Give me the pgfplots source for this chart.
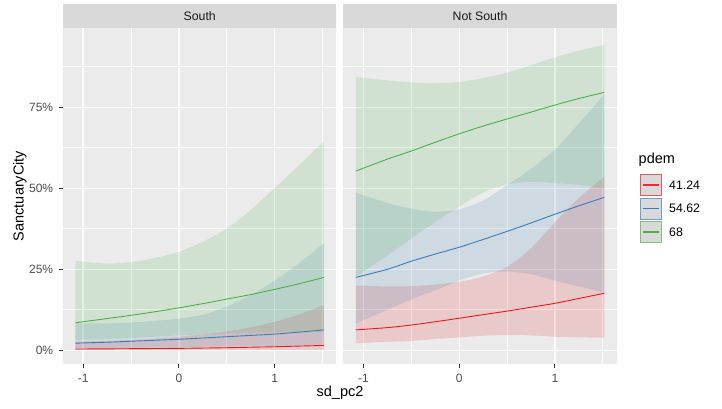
\documentclass[border=0pt]{standalone}
\usepackage{fontspec}
\setmainfont{Liberation Sans}
\usepackage{pgfplots}
\pgfplotsset{compat=1.18}
\usepackage{pgfplotstable}
\usepgfplotslibrary{fillbetween}

\definecolor{cred}{HTML}{E41A1C}
\definecolor{cblue}{HTML}{377EB8}
\definecolor{cgreen}{HTML}{4DAF4A}
\definecolor{panelbg}{HTML}{EBEBEB}
\definecolor{stripbg}{HTML}{D9D9D9}
\definecolor{tickgrey}{HTML}{333333}
\definecolor{labgrey}{HTML}{4D4D4D}
\definecolor{stripfg}{HTML}{1A1A1A}
\definecolor{kred}{HTML}{E8585A}
\definecolor{kblue}{HTML}{6E9FCB}
\definecolor{kgreen}{HTML}{7DC47B}
\definecolor{lred}{HTML}{EE2A2C}

\pgfplotstableread{
x      gl     gm     gu     bl     bm     bu     rl      rm      ru
-1.08  0.032  0.085  0.276  0.006  0.022  0.083  0.0005  0.0040  0.027
-0.75  0.035  0.098  0.268  0.007  0.025  0.083  0.0006  0.0045  0.029
-0.50  0.038  0.108  0.272  0.008  0.028  0.086  0.0007  0.0050  0.032
-0.25  0.042  0.119  0.285  0.009  0.031  0.091  0.0008  0.0055  0.036
 0.00  0.046  0.131  0.304  0.010  0.034  0.098  0.0009  0.0060  0.042
 0.25  0.049  0.144  0.335  0.011  0.038  0.110  0.0010  0.0070  0.049
 0.50  0.052  0.158  0.375  0.012  0.042  0.135  0.0010  0.0080  0.058
 0.75  0.054  0.172  0.433  0.013  0.046  0.170  0.0012  0.0095  0.071
 1.00  0.055  0.188  0.500  0.014  0.050  0.215  0.0013  0.0110  0.088
 1.25  0.055  0.205  0.570  0.015  0.056  0.268  0.0014  0.0130  0.110
 1.515 0.055  0.225  0.645  0.016  0.063  0.330  0.0015  0.0150  0.140
}\south

\pgfplotstableread{
x      gl     gm     gu     bl     bm     bu     rl     rm     ru
-1.08  0.227  0.553  0.843  0.083  0.225  0.486  0.022  0.063  0.200
-0.75  0.292  0.590  0.833  0.125  0.250  0.455  0.026  0.070  0.197
-0.50  0.345  0.615  0.827  0.157  0.275  0.437  0.029  0.078  0.198
-0.25  0.396  0.642  0.824  0.185  0.297  0.428  0.035  0.088  0.203
 0.00  0.443  0.668  0.828  0.215  0.318  0.435  0.040  0.099  0.212
 0.25  0.487  0.692  0.840  0.237  0.342  0.462  0.045  0.110  0.228
 0.50  0.512  0.714  0.857  0.243  0.367  0.510  0.047  0.121  0.258
 0.75  0.520  0.735  0.880  0.235  0.393  0.560  0.046  0.133  0.315
 1.00  0.516  0.757  0.904  0.215  0.420  0.620  0.042  0.145  0.395
 1.25  0.510  0.777  0.925  0.197  0.446  0.700  0.040  0.160  0.470
 1.515 0.500  0.796  0.942  0.178  0.472  0.790  0.039  0.176  0.536
}\nsouth

\pgfplotsset{
  panel/.style={
    scale only axis, anchor=south west,
    width=273.4pt, height=336.3pt,
    xmin=-1.21, xmax=1.645, ymin=-0.0432, ymax=0.9947,
    axis background/.style={fill=panelbg},
    axis line style={draw=none},
    grid=both,
    major grid style={line width=1.3pt, white},
    minor grid style={line width=0.65pt, white},
    xtick={-1,0,1}, minor xtick={-0.5,0.5,1.5},
    xticklabels={-1,0,1},
    ytick={0,0.25,0.5,0.75}, minor ytick={0.125,0.375,0.625,0.875},
    tick align=outside, major tick length=3.7pt, minor tick length=0pt,
    tick style={draw=tickgrey, line width=1pt},
    tick pos=left,
    ticklabel style={font=\fontsize{12pt}{13pt}\selectfont, text=labgrey},
    xticklabel style={inner sep=1pt, yshift=-5pt},
    yticklabel style={inner sep=1pt, xshift=-5pt},
  },
  rib/.style={draw=none, fill opacity=0.16, fill=#1},
  ln/.style={#1, line width=0.9pt, smooth},
}

\begin{document}
\begin{tikzpicture}
\path (0,0) rectangle (722pt,408pt);

% strips
\fill[stripbg] (63pt,380pt) rectangle (336.4pt,404pt);
\node[text=stripfg, font=\fontsize{12.3pt}{13pt}\selectfont] at (199.7pt,392pt) {South};
\fill[stripbg] (343.3pt,380pt) rectangle (616.7pt,404pt);
\node[text=stripfg, font=\fontsize{12.3pt}{13pt}\selectfont] at (480pt,392pt) {Not South};

\begin{axis}[panel, at={(63pt,43.7pt)},
  yticklabels={0\%,25\%,50\%,75\%}]
  \addplot[draw=none, smooth, name path=sru] table[x=x,y=ru]{\south};
  \addplot[draw=none, smooth, name path=srl] table[x=x,y=rl]{\south};
  \addplot[rib=cred] fill between[of=sru and srl];
  \addplot[draw=none, smooth, name path=sbu] table[x=x,y=bu]{\south};
  \addplot[draw=none, smooth, name path=sbl] table[x=x,y=bl]{\south};
  \addplot[rib=cblue] fill between[of=sbu and sbl];
  \addplot[draw=none, smooth, name path=sgu] table[x=x,y=gu]{\south};
  \addplot[draw=none, smooth, name path=sgl] table[x=x,y=gl]{\south};
  \addplot[rib=cgreen] fill between[of=sgu and sgl];
  \addplot[ln=cred] table[x=x,y=rm]{\south};
  \addplot[ln=cblue] table[x=x,y=bm]{\south};
  \addplot[ln=cgreen] table[x=x,y=gm]{\south};
\end{axis}

\begin{axis}[panel, at={(343.3pt,43.7pt)},
  yticklabels={}, ytick style={draw=none}]
  \addplot[draw=none, smooth, name path=nru] table[x=x,y=ru]{\nsouth};
  \addplot[draw=none, smooth, name path=nrl] table[x=x,y=rl]{\nsouth};
  \addplot[rib=cred] fill between[of=nru and nrl];
  \addplot[draw=none, smooth, name path=nbu] table[x=x,y=bu]{\nsouth};
  \addplot[draw=none, smooth, name path=nbl] table[x=x,y=bl]{\nsouth};
  \addplot[rib=cblue] fill between[of=nbu and nbl];
  \addplot[draw=none, smooth, name path=ngu] table[x=x,y=gu]{\nsouth};
  \addplot[draw=none, smooth, name path=ngl] table[x=x,y=gl]{\nsouth};
  \addplot[rib=cgreen] fill between[of=ngu and ngl];
  \addplot[ln=cred] table[x=x,y=rm]{\nsouth};
  \addplot[ln=cblue] table[x=x,y=bm]{\nsouth};
  \addplot[ln=cgreen] table[x=x,y=gm]{\nsouth};
\end{axis}

% axis titles
\node[font=\fontsize{14.5pt}{16pt}\selectfont] at (340pt,15pt) {sd\_pc2};
\node[font=\fontsize{14.5pt}{16pt}\selectfont, rotate=90] at (20pt,212pt) {SanctuaryCity};

% legend
\node[font=\fontsize{14.5pt}{16pt}\selectfont, anchor=west, inner sep=0pt] at (638.5pt,248pt) {pdem};
% key 1
\fill[stripbg] (639.8pt,212pt) rectangle (661.7pt,234pt);
\draw[kred, line width=1pt] (640.3pt,212.5pt) rectangle (661.2pt,233.5pt);
\draw[lred, line width=1.1pt] (642.5pt,223pt) -- (659pt,223pt);
\node[font=\fontsize{12.3pt}{13pt}\selectfont, anchor=west, inner sep=0pt] at (669pt,223pt) {41.24};
% key 2
\fill[stripbg] (639.8pt,188.5pt) rectangle (661.7pt,210.5pt);
\draw[kblue, line width=1pt] (640.3pt,189pt) rectangle (661.2pt,210pt);
\draw[cblue, line width=1.1pt] (642.5pt,199.5pt) -- (659pt,199.5pt);
\node[font=\fontsize{12.3pt}{13pt}\selectfont, anchor=west, inner sep=0pt] at (669pt,199.5pt) {54.62};
% key 3
\fill[stripbg] (639.8pt,165pt) rectangle (661.7pt,187pt);
\draw[kgreen, line width=1pt] (640.3pt,165.5pt) rectangle (661.2pt,186.5pt);
\draw[cgreen, line width=1.1pt] (642.5pt,176pt) -- (659pt,176pt);
\node[font=\fontsize{12.3pt}{13pt}\selectfont, anchor=west, inner sep=0pt] at (669pt,176pt) {68};
\end{tikzpicture}
\end{document}
